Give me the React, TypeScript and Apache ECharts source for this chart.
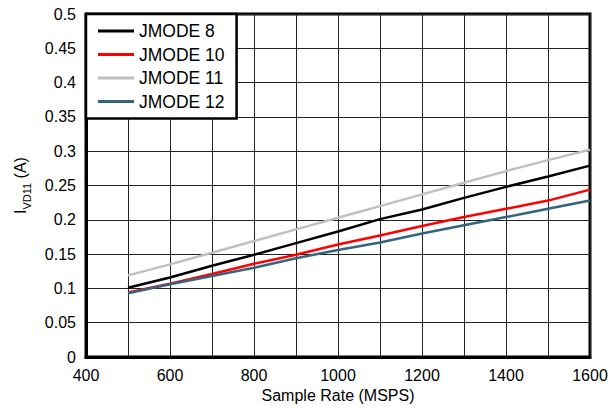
import React, { useEffect, useRef } from "react";
import * as echarts from "echarts";

const sampleRates = [500, 600, 700, 800, 900, 1000, 1100, 1200, 1300, 1400, 1500, 1600];
const jmode8 = [0.101, 0.116, 0.133, 0.149, 0.166, 0.183, 0.201, 0.215, 0.232, 0.248, 0.263, 0.279];
const jmode10 = [0.094, 0.107, 0.121, 0.136, 0.149, 0.164, 0.177, 0.191, 0.204, 0.216, 0.228, 0.244];
const jmode11 = [0.119, 0.135, 0.152, 0.169, 0.186, 0.203, 0.220, 0.237, 0.254, 0.271, 0.287, 0.302];
const jmode12 = [0.093, 0.106, 0.118, 0.130, 0.144, 0.156, 0.167, 0.180, 0.192, 0.204, 0.216, 0.228];

const seriesNames = ["JMODE 8", "JMODE 10", "JMODE 11", "JMODE 12"];
const seriesColors = ["#000000", "#ff0000", "#c0c0c0", "#35647e"];

const FONT = "Liberation Sans, Arial, Helvetica, sans-serif";

export default function App() {
  const ref = useRef<HTMLDivElement>(null);
  useEffect(() => {
    if (!ref.current) return;
    const chart = echarts.init(ref.current, null, { renderer: "svg" });
    const datas = [jmode8, jmode10, jmode11, jmode12];
    chart.setOption({
      animation: false,
      textStyle: { fontFamily: FONT },
      grid: {
        left: 86,
        right: 21,
        top: 14,
        bottom: 53,
        show: true,
        borderColor: "#000",
        borderWidth: 3,
        backgroundColor: "transparent",
      },
      legend: {
        orient: "vertical",
        left: 86,
        top: 14,
        data: seriesNames.map((n) => ({ name: n, icon: "rect" })),
        backgroundColor: "#fff",
        borderColor: "#000",
        borderWidth: 2.5,
        borderRadius: 0,
        padding: [8, 12, 8, 12],
        itemGap: 5.5,
        itemWidth: 36,
        itemHeight: 3,
        textStyle: { fontSize: 17.5, color: "#000", fontFamily: FONT, lineHeight: 18 },
      },
      xAxis: {
        type: "value",
        min: 400,
        max: 1600,
        interval: 200,
        axisLine: { show: true, lineStyle: { color: "#000", width: 3 } },
        axisTick: { show: false },
        axisLabel: {
          fontSize: 16,
          color: "#000",
          margin: 10,
          fontFamily: FONT,
          formatter: (v: number) => String(v),
        },
        splitLine: { show: true, lineStyle: { color: "#222", width: 1 } },
        minorTick: { show: false, splitNumber: 2 },
        minorSplitLine: { show: true, lineStyle: { color: "#222", width: 1 } },
        name: "Sample Rate (MSPS)",
        nameLocation: "middle",
        nameGap: 30,
        nameTextStyle: { fontSize: 16, color: "#000", fontFamily: FONT },
      },
      yAxis: {
        type: "value",
        min: 0,
        max: 0.5,
        interval: 0.05,
        axisLine: { show: true, lineStyle: { color: "#000", width: 3 } },
        axisTick: { show: false },
        axisLabel: { fontSize: 16, color: "#000", margin: 10, fontFamily: FONT },
        splitLine: { show: true, lineStyle: { color: "#222", width: 1 } },
        name: "{a|I}{b|VD11}{a| (A)}",
        nameLocation: "middle",
        nameGap: 58,
        nameRotate: 90,
        nameTextStyle: {
          color: "#000",
          fontFamily: FONT,
          rich: {
            a: { fontSize: 16, color: "#000", fontFamily: FONT, verticalAlign: "bottom", lineHeight: 20 },
            b: { fontSize: 11, color: "#000", fontFamily: FONT, verticalAlign: "bottom", lineHeight: 14, padding: [0, 0, -4, 0] },
          },
        },
      },
      series: seriesNames.map((name, i) => ({
        name,
        type: "line",
        symbol: "none",
        data: sampleRates.map((x, j) => [x, datas[i][j]]),
        lineStyle: { color: seriesColors[i], width: 2.5 },
        itemStyle: { color: seriesColors[i] },
        z: 3,
      })),
    });
    return () => chart.dispose();
  }, []);
  return <div ref={ref} style={{ width: 611, height: 410, position: "absolute", left: 0, top: 0 }} />;
}
